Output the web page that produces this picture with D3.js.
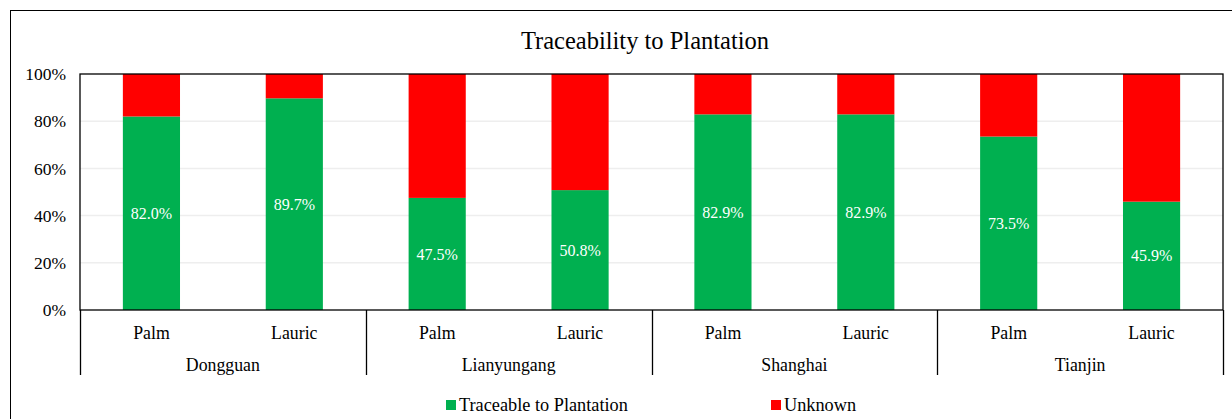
<!DOCTYPE html>
<html><head><meta charset="utf-8">
<script src="https://cdn.jsdelivr.net/npm/d3@7"></script>
<style>body{margin:0;background:#fff}svg text{font-family:"Liberation Serif","Times New Roman",serif !important}</style>
</head><body>
<svg id="c" width="1232" height="419" font-family="Liberation Serif"></svg>
<script>
const cities = ["Dongguan","Lianyungang","Shanghai","Tianjin"];
const oils = ["Palm","Lauric"];
const traceable = [82.0, 89.7, 47.5, 50.8, 82.9, 82.9, 73.5, 45.9];
const yTicks = [0,20,40,60,80,100];
const seriesNames = ["Traceable to Plantation","Unknown"];
const colors = ["#00B050","#FF0000"];

const rows = [];
cities.forEach((c,i)=>oils.forEach((o,j)=>{
  const t = traceable[i*2+j];
  rows.push({key:c+"|"+o, city:c, oil:o, t:t, u:100-t});
}));

const svg = d3.select("#c");
const L=80, R=1223, T=74, B=310;
const SERIF = '"Liberation Serif","Times New Roman",serif';
svg.append("rect").attr("x",10.5).attr("y",10.5).attr("width",1240).attr("height",420)
  .attr("fill","none").attr("stroke","#000").attr("stroke-width",1);

const x = d3.scaleBand().domain(rows.map(d=>d.key)).range([L,R]).paddingInner(0.6).paddingOuter(0.3);
const y = d3.scaleLinear().domain([0,100]).range([B,T]);

svg.append("g").selectAll("line").data(yTicks.filter(v=>v>0&&v<100)).join("line")
  .attr("x1",L).attr("x2",R).attr("y1",d=>y(d)).attr("y2",d=>y(d))
  .attr("stroke","#eeeeee").attr("stroke-width",1.5);

const stack = d3.stack().keys(["t","u"])(rows);
svg.append("g").selectAll("g").data(stack).join("g").attr("fill",(d,i)=>colors[i])
  .selectAll("rect").data(d=>d).join("rect")
  .attr("x",d=>x(d.data.key)).attr("width",x.bandwidth())
  .attr("y",d=>y(d[1])).attr("height",d=>y(d[0])-y(d[1]));

svg.append("g").selectAll("text").data(rows).join("text")
  .attr("x",d=>x(d.key)+x.bandwidth()/2).attr("y",d=>y(d.t/2)).attr("dy","0.35em")
  .attr("text-anchor","middle").attr("fill","#fff")
  .style("font-size","16px").style("font-family",SERIF)
  .text(d=>d.t.toFixed(1)+"%");

svg.append("rect").attr("x",L).attr("y",T).attr("width",R-L).attr("height",B-T)
  .attr("fill","none").attr("stroke","#000").attr("stroke-width",1.3);

const ya = svg.append("g").attr("transform",`translate(${L},0)`)
  .call(d3.axisLeft(y).tickValues(yTicks).tickFormat(d=>d+"%").tickSize(0).tickPadding(14));
ya.attr("font-family",SERIF);
ya.select(".domain").remove();
ya.selectAll("text").attr("fill","#000").style("font-size","17.5px").style("font-family",SERIF);

const xa = svg.append("g").attr("transform",`translate(0,${B})`)
  .call(d3.axisBottom(x).tickFormat(k=>k.split("|")[1]).tickSize(0).tickPadding(16));
xa.attr("font-family",SERIF);
xa.select(".domain").remove();
xa.selectAll("text").attr("fill","#000").style("font-size","17.8px").style("font-family",SERIF);

const gx = d3.scaleBand().domain(cities).range([L,R]);
svg.append("g").selectAll("line").data(d3.range(cities.length+1)).join("line")
  .attr("x1",i=>Math.round(L+i*gx.step())+0.5).attr("x2",i=>Math.round(L+i*gx.step())+0.5)
  .attr("y1",B).attr("y2",375).attr("stroke","#000").attr("stroke-width",1.3);
svg.append("g").selectAll("text").data(cities).join("text")
  .attr("x",c=>gx(c)+gx.bandwidth()/2).attr("y",371).attr("text-anchor","middle")
  .style("font-size","17.8px").style("font-family",SERIF).text(c=>c);

svg.append("text").attr("x",645).attr("y",49).attr("text-anchor","middle")
  .style("font-size","24.5px").style("font-family",SERIF).text("Traceability to Plantation");

const legX = [446, 771];
const lg = svg.append("g").selectAll("g").data(seriesNames).join("g")
  .attr("transform",(d,i)=>`translate(${legX[i]},400)`);
lg.append("rect").attr("width",10).attr("height",10).attr("fill",(d,i)=>colors[i]);
lg.append("text").attr("x",13).attr("y",11).style("font-size","18.3px").style("font-family",SERIF).text(d=>d);
</script>
</body></html>
